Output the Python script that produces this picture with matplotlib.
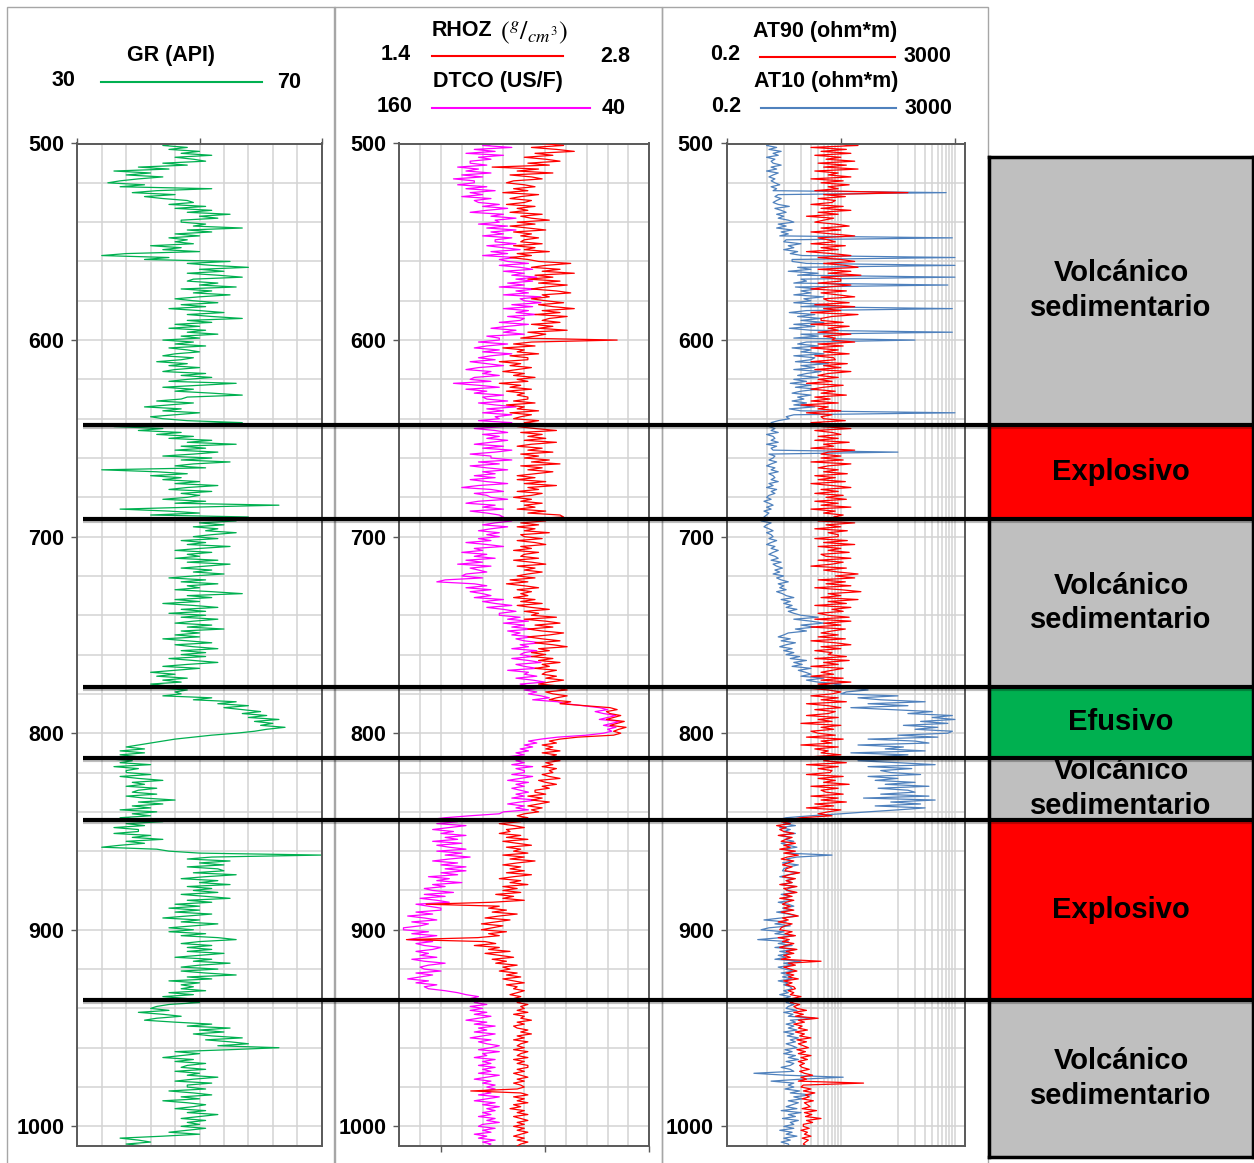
import numpy as np
import matplotlib
matplotlib.use("Agg")
import matplotlib.pyplot as plt
from matplotlib.lines import Line2D
from matplotlib.patches import Rectangle
import matplotlib.transforms as mtransforms
import matplotlib.patheffects as pe

plt.rcParams['font.family'] = ['Liberation Sans', 'DejaVu Sans']
plt.rcParams['mathtext.fontset'] = 'stix'

# ---------------------------------------------------------------- data
# one sample per metre, 500 m to 1010 m
DEPTH_TOP, DEPTH_BASE, DEPTH_STEP = 500, 1010, 1

gr = [
    46, 44, 48, 45, 50, 47, 52, 46, 49, 51,   # 500
    44, 48, 40, 45, 36, 42, 38, 44, 40, 37,   # 510
    35, 41, 37, 52, 43, 39, 46, 41, 44, 48,   # 520
    49, 45, 51, 46, 52, 48, 55, 50, 53, 47,   # 530
    47, 51, 49, 57, 48, 52, 46, 50, 45, 48,   # 540
    46, 49, 42, 47, 44, 50, 38, 34, 45, 41,   # 550
    55, 48, 52, 58, 50, 54, 48, 53, 57, 49,   # 560
    48, 53, 50, 56, 47, 52, 49, 55, 50, 46,   # 570
    49, 53, 47, 51, 45, 50, 54, 48, 52, 57,   # 580
    48, 52, 46, 50, 45, 51, 48, 53, 47, 50,   # 590
    44, 49, 46, 51, 45, 48, 50, 46, 44, 49,   # 600
    47, 43, 48, 45, 50, 46, 44, 51, 47, 52,   # 610
    48, 45, 56, 50, 44, 49, 46, 52, 57, 48,   # 620
    47, 43, 49, 45, 41, 47, 44, 50, 46, 42,   # 630
    44, 48, 57, 41, 36, 44, 40, 47, 43, 49,   # 640
    45, 52, 48, 56, 47, 51, 46, 53, 49, 44,   # 650
    52, 47, 55, 49, 46, 51, 34, 43, 48, 42,   # 660
    47, 44, 50, 46, 53, 48, 45, 52, 47, 50,   # 670
    48, 44, 51, 46, 63, 49, 37, 45, 50, 42,   # 680
    58, 52, 56, 50, 54, 49, 53, 51, 56, 52,   # 690
    49, 53, 47, 51, 48, 55, 50, 46, 52, 48,   # 700
    50, 46, 53, 48, 55, 51, 47, 52, 49, 54,   # 710
    49, 45, 51, 47, 53, 48, 50, 46, 52, 57,   # 720
    48, 52, 46, 50, 44, 49, 53, 47, 51, 45,   # 730
    51, 47, 53, 49, 46, 52, 48, 54, 47, 50,   # 740
    46, 50, 44, 48, 52, 46, 49, 53, 47, 51,   # 750
    47, 51, 45, 49, 53, 48, 44, 50, 46, 42,   # 760
    46, 43, 48, 44, 47, 42, 45, 43, 48, 46,   # 770
    47, 44, 52, 49, 56, 53, 58, 54, 57, 60,   # 780
    57, 61, 58, 63, 59, 62, 60, 64, 61, 59,   # 790
    56, 52, 49, 46, 44, 42, 40, 38, 41, 37,   # 800
    41, 37, 40, 35, 39, 37, 42, 36, 40, 38,   # 810
    38, 42, 37, 40, 44, 39, 41, 38, 43, 40,   # 820
    39, 43, 38, 41, 46, 40, 44, 39, 42, 37,   # 830
    43, 39, 42, 37, 41, 44, 38, 41, 36, 40,   # 840
    40, 36, 42, 39, 44, 38, 41, 37, 34, 43,   # 850
    45, 50, 70, 52, 48, 55, 50, 54, 48, 53,   # 860
    54, 49, 56, 51, 47, 53, 50, 55, 48, 52,   # 870
    49, 53, 47, 51, 55, 48, 52, 46, 50, 45,   # 880
    50, 46, 52, 48, 44, 50, 47, 53, 49, 45,   # 890
    49, 45, 51, 47, 53, 56, 50, 47, 52, 48,   # 900
    52, 48, 54, 50, 46, 52, 49, 55, 50, 47,   # 910
    53, 47, 51, 56, 48, 52, 45, 50, 47, 49,   # 920
    47, 51, 45, 49, 44, 48, 46, 50, 45, 43,   # 930
    42, 45, 40, 44, 47, 43, 41, 46, 52, 48,   # 940
    55, 50, 54, 49, 52, 57, 51, 55, 58, 53,   # 950
    63, 55, 46, 50, 47, 44, 49, 46, 51, 48,   # 960
    47, 51, 46, 50, 48, 53, 49, 46, 52, 48,   # 970
    48, 51, 45, 49, 52, 47, 50, 44, 48, 51,   # 980
    49, 46, 51, 48, 53, 50, 47, 51, 48, 50,   # 990
    47, 51, 48, 45, 50, 44, 37, 40, 42, 38,   # 1000
    41,
]

rhoz = [
    2.20, 2.32, 2.14, 2.28, 2.38, 2.16, 2.26, 2.10, 2.22, 2.30,   # 500
    2.12, 2.24, 1.92, 2.18, 2.06, 2.26, 2.02, 2.14, 2.20, 2.04,   # 510
    2.00, 2.10, 2.16, 2.04, 2.12, 1.98, 2.18, 2.08, 2.02, 2.14,   # 520
    2.10, 2.00, 2.16, 2.06, 2.12, 2.02, 2.20, 2.08, 2.14, 2.24,   # 530
    2.06, 2.16, 2.02, 2.12, 2.22, 2.04, 2.14, 2.08, 2.18, 2.10,   # 540
    2.08, 2.20, 2.04, 2.16, 2.10, 2.24, 2.06, 2.14, 2.02, 2.12,   # 550
    2.18, 2.36, 2.22, 2.14, 2.30, 2.20, 2.38, 2.16, 2.26, 2.12,   # 560
    2.30, 2.18, 2.34, 2.22, 2.14, 2.28, 2.36, 2.20, 2.24, 2.14,   # 570
    2.22, 2.32, 2.18, 2.26, 2.38, 2.20, 2.30, 2.16, 2.34, 2.24,   # 580
    2.20, 2.30, 2.14, 2.26, 2.18, 2.34, 2.12, 2.22, 2.16, 2.08,   # 590
    2.62, 2.14, 2.04, 2.16, 1.98, 2.10, 2.06, 2.18, 2.02, 2.12,   # 600
    2.12, 1.96, 2.08, 2.02, 2.14, 2.06, 1.98, 2.10, 2.04, 2.16,   # 610
    2.06, 2.12, 1.96, 2.08, 2.02, 2.14, 2.00, 2.10, 2.06, 2.12,   # 620
    2.12, 2.04, 2.16, 2.00, 2.10, 2.06, 2.18, 2.02, 2.14, 2.08,   # 630
    2.04, 2.18, 2.10, 2.24, 2.06, 2.16, 2.28, 2.08, 2.20, 2.12,   # 640
    2.22, 2.10, 2.28, 2.14, 2.06, 2.20, 2.12, 2.26, 2.08, 2.18,   # 650
    2.10, 2.24, 2.14, 2.30, 2.08, 2.20, 2.12, 2.26, 2.16, 2.06,   # 660
    2.16, 2.06, 2.22, 2.10, 2.28, 2.12, 2.18, 2.06, 2.20, 2.14,   # 670
    2.04, 2.14, 2.08, 2.20, 2.10, 2.16, 2.06, 2.22, 2.12, 2.30,   # 680
    2.32, 2.12, 2.22, 2.08, 2.18, 2.06, 2.16, 2.10, 2.24, 2.08,   # 690
    2.10, 2.20, 2.06, 2.16, 2.22, 2.08, 2.14, 2.04, 2.18, 2.10,   # 700
    2.08, 2.18, 2.04, 2.14, 2.22, 2.06, 2.16, 2.10, 2.20, 2.12,   # 710
    2.06, 2.16, 2.02, 2.12, 2.00, 2.10, 2.18, 2.06, 2.14, 2.08,   # 720
    2.12, 2.04, 2.16, 2.08, 2.20, 2.06, 2.14, 2.24, 2.10, 2.18,   # 730
    2.14, 2.28, 2.10, 2.22, 2.30, 2.16, 2.26, 2.12, 2.20, 2.32,   # 740
    2.24, 2.12, 2.20, 2.30, 2.16, 2.26, 2.34, 2.18, 2.24, 2.14,   # 750
    2.22, 2.14, 2.26, 2.18, 2.30, 2.20, 2.24, 2.16, 2.28, 2.22,   # 760
    2.20, 2.28, 2.22, 2.32, 2.24, 2.18, 2.30, 2.26, 2.34, 2.22,   # 770
    2.26, 2.34, 2.28, 2.24, 2.36, 2.30, 2.44, 2.58, 2.62, 2.56,   # 780
    2.58, 2.64, 2.60, 2.56, 2.66, 2.62, 2.58, 2.67, 2.63, 2.60,   # 790
    2.64, 2.60, 2.40, 2.30, 2.24, 2.28, 2.20, 2.26, 2.22, 2.30,   # 800
    2.20, 2.28, 2.24, 2.18, 2.30, 2.22, 2.26, 2.20, 2.28, 2.24,   # 810
    2.26, 2.20, 2.24, 2.30, 2.18, 2.22, 2.28, 2.20, 2.24, 2.16,   # 820
    2.16, 2.22, 2.12, 2.20, 2.14, 2.24, 2.18, 2.12, 2.20, 2.14,   # 830
    2.18, 2.10, 2.06, 2.12, 2.00, 2.08, 1.96, 2.04, 2.10, 2.00,   # 840
    2.02, 1.96, 2.08, 2.00, 2.12, 1.98, 2.06, 2.14, 2.00, 2.08,   # 850
    2.04, 2.12, 1.98, 2.10, 2.02, 2.16, 2.06, 1.98, 2.08, 2.02,   # 860
    2.10, 2.00, 2.14, 2.04, 1.96, 2.08, 2.02, 2.12, 1.98, 2.06,   # 870
    1.98, 2.08, 1.94, 2.04, 1.98, 2.10, 1.92, 1.55, 1.96, 1.90,   # 880
    2.00, 1.92, 2.06, 1.96, 1.88, 2.02, 1.94, 1.86, 1.98, 1.92,   # 890
    1.86, 2.00, 1.90, 1.96, 1.84, 1.44, 1.88, 1.94, 1.82, 1.96,   # 900
    1.90, 2.02, 1.88, 1.96, 2.04, 1.92, 2.00, 1.94, 2.06, 1.98,   # 910
    2.02, 1.96, 2.06, 2.00, 2.08, 1.98, 2.04, 2.10, 2.00, 2.06,   # 920
    2.04, 2.10, 2.06, 2.02, 2.08, 2.04, 2.10, 2.06, 2.12, 2.08,   # 930
    2.10, 2.06, 2.12, 2.04, 2.10, 2.08, 2.14, 2.06, 2.10, 2.04,   # 940
    2.06, 2.12, 2.08, 2.14, 2.06, 2.10, 2.04, 2.12, 2.08, 2.06,   # 950
    2.10, 2.04, 2.12, 2.08, 2.06, 2.12, 2.04, 2.10, 2.06, 2.12,   # 960
    2.12, 2.06, 2.10, 2.04, 2.08, 2.12, 2.06, 2.10, 2.04, 2.08,   # 970
    2.10, 2.06, 1.80, 2.08, 2.12, 2.04, 2.10, 2.06, 2.12, 2.04,   # 980
    2.08, 2.02, 2.10, 2.06, 2.12, 2.04, 2.08, 2.12, 2.06, 2.10,   # 990
    2.04, 2.10, 2.06, 2.12, 2.08, 2.04, 2.10, 2.06, 2.12, 2.08,   # 1000
    2.06,
]

dtco = [
    112, 120, 106, 124, 114, 128, 110, 122, 116, 126,   # 500
    126, 118, 132, 122, 128, 116, 130, 120, 134, 124,   # 510
    124, 132, 118, 128, 114, 126, 120, 130, 116, 124,   # 520
    122, 112, 120, 108, 118, 126, 110, 116, 104, 114,   # 530
    112, 122, 108, 118, 104, 116, 110, 120, 106, 114,   # 540
    114, 104, 118, 110, 102, 116, 108, 120, 104, 112,   # 550
    108, 98, 112, 102, 96, 110, 100, 106, 94, 104,      # 560
    96, 108, 100, 112, 94, 104, 98, 110, 92, 102,       # 570
    100, 92, 106, 96, 110, 98, 104, 94, 108, 100,       # 580
    102, 112, 98, 108, 116, 104, 110, 100, 118, 112,    # 590
    112, 122, 108, 118, 124, 112, 120, 106, 116, 122,   # 600
    114, 126, 118, 110, 122, 128, 116, 120, 112, 124,   # 610
    126, 116, 134, 122, 112, 128, 118, 124, 110, 120,   # 620
    118, 108, 122, 114, 104, 118, 110, 120, 106, 114,   # 630
    112, 122, 106, 118, 110, 124, 114, 108, 120, 112,   # 640
    118, 108, 116, 124, 110, 120, 106, 114, 126, 116,   # 650
    116, 106, 122, 112, 126, 118, 108, 120, 114, 124,   # 660
    114, 126, 118, 108, 122, 130, 116, 110, 124, 118,   # 670
    116, 108, 122, 128, 114, 120, 110, 126, 118, 112,   # 680
    110, 118, 106, 114, 120, 108, 116, 122, 112, 118,   # 690
    112, 122, 116, 128, 118, 110, 124, 120, 130, 118,   # 700
    124, 114, 128, 120, 132, 116, 126, 122, 118, 128,   # 710
    130, 120, 138, 142, 124, 118, 128, 116, 126, 120,   # 720
    116, 124, 110, 120, 114, 106, 118, 110, 104, 112,   # 730
    112, 102, 108, 98, 110, 100, 106, 96, 108, 102,     # 740
    106, 96, 104, 100, 92, 102, 98, 106, 94, 100,       # 750
    102, 96, 106, 98, 92, 104, 100, 94, 108, 98,        # 760
    100, 94, 104, 96, 90, 102, 98, 92, 100, 94,         # 770
    98, 92, 88, 96, 84, 80, 72, 64, 60, 66,             # 780
    62, 56, 60, 64, 54, 58, 62, 56, 60, 58,             # 790
    62, 70, 84, 92, 98, 94, 100, 96, 102, 98,           # 800
    104, 100, 108, 98, 104, 100, 106, 96, 104, 100,     # 810
    100, 106, 96, 102, 108, 98, 104, 100, 106, 102,     # 820
    98, 104, 100, 106, 94, 102, 108, 100, 104, 98,      # 830
    110, 112, 126, 138, 146, 132, 142, 128, 136, 144,   # 840
    134, 140, 128, 138, 132, 144, 130, 142, 136, 128,   # 850
    142, 130, 138, 126, 136, 144, 132, 140, 128, 138,   # 860
    128, 140, 132, 146, 136, 142, 130, 144, 138, 148,   # 870
    144, 134, 148, 138, 150, 142, 136, 152, 146, 140,   # 880
    140, 152, 144, 156, 148, 142, 154, 146, 150, 158,   # 890
    158, 146, 154, 142, 150, 156, 144, 152, 148, 140,   # 900
    144, 152, 146, 150, 142, 154, 148, 138, 146, 150,   # 910
    148, 140, 152, 144, 150, 156, 146, 152, 142, 148,   # 920
    146, 138, 132, 128, 122, 126, 120, 124, 118, 126,   # 930
    120, 126, 118, 124, 116, 122, 128, 118, 124, 114,   # 940
    122, 118, 124, 114, 120, 126, 116, 122, 118, 112,   # 950
    116, 122, 112, 120, 118, 124, 114, 120, 116, 122,   # 960
    114, 120, 116, 122, 112, 118, 124, 116, 120, 114,   # 970
    118, 114, 120, 116, 122, 112, 118, 124, 114, 120,   # 980
    112, 118, 114, 120, 116, 122, 114, 118, 112, 120,   # 990
    122, 114, 120, 116, 124, 118, 122, 114, 120, 116,   # 1000
    118,
]

at90 = [
    12, 40, 6, 25, 9, 30, 7, 20, 11, 35,           # 500
    8, 25, 10, 40, 7, 18, 12, 30, 6, 22,           # 510
    9, 28, 12, 18, 7, 300, 10, 24, 8, 16,          # 520
    14, 6, 22, 9, 30, 8, 18, 5, 15, 10,            # 530
    7, 16, 28, 9, 20, 6, 14, 35, 8, 12,            # 540
    16, 6, 24, 9, 18, 5, 14, 30, 8, 20,            # 550
    35, 10, 24, 40, 8, 30, 12, 45, 9, 20,          # 560
    20, 8, 30, 12, 6, 25, 9, 18, 35, 10,           # 570
    12, 28, 7, 35, 10, 20, 6, 40, 14, 9,           # 580
    9, 22, 6, 28, 12, 18, 8, 30, 10, 16,           # 590
    14, 35, 8, 22, 6, 18, 10, 28, 7, 15,           # 600
    16, 6, 26, 10, 20, 7, 30, 12, 8, 18,           # 610
    8, 14, 5, 22, 10, 6, 16, 9, 25, 7,             # 620
    13, 6, 18, 4, 12, 8, 20, 5, 14, 9,             # 630
    10, 24, 6, 16, 9, 30, 7, 14, 20, 8,            # 640
    18, 7, 28, 10, 15, 6, 35, 12, 9, 20,           # 650
    9, 22, 6, 30, 12, 8, 18, 10, 26, 7,            # 660
    16, 8, 24, 6, 14, 30, 9, 18, 7, 22,            # 670
    11, 25, 7, 18, 9, 30, 6, 16, 10, 22,           # 680
    15, 28, 8, 35, 11, 20, 7, 26, 12, 18,          # 690
    18, 7, 26, 10, 35, 8, 20, 12, 28, 9,           # 700
    11, 30, 8, 22, 14, 6, 25, 10, 18, 40,          # 710
    16, 35, 8, 24, 11, 30, 7, 20, 45, 12,          # 720
    20, 9, 40, 12, 25, 7, 30, 14, 22, 8,           # 730
    12, 28, 7, 30, 10, 20, 6, 24, 14, 9,           # 740
    18, 8, 24, 6, 16, 30, 9, 20, 7, 14,            # 750
    12, 25, 7, 28, 10, 18, 6, 22, 14, 9,           # 760
    15, 6, 22, 9, 30, 8, 18, 5, 12, 20,            # 770
    14, 6, 18, 9, 25, 5, 12, 20, 7, 16,            # 780
    12, 5, 18, 8, 14, 4, 20, 9, 15, 6,             # 790
    8, 16, 5, 22, 9, 14, 4, 18, 7, 12,             # 800
    9, 20, 6, 15, 10, 25, 5, 18, 8, 14,            # 810
    13, 5, 22, 8, 16, 10, 28, 6, 18, 9,            # 820
    11, 22, 6, 18, 9, 25, 7, 15, 5, 20,            # 830
    12, 8, 14, 4, 2.5, 1.8, 2.6, 1.5, 2.2, 1.7,    # 840
    2.0, 3.0, 1.6, 2.8, 2.2, 1.8, 3.2, 2.0, 2.6, 1.7,   # 850
    3.2, 2.0, 3.6, 2.3, 1.8, 3.0, 2.4, 1.9, 2.8, 2.2,   # 860
    2.1, 3.8, 2.5, 1.9, 3.2, 2.2, 2.8, 1.7, 3.4, 2.0,   # 870
    2.4, 3.4, 2.0, 2.8, 1.7, 3.0, 2.2, 1.9, 2.6, 2.0,   # 880
    3.0, 1.8, 2.6, 3.6, 1.9, 2.4, 1.6, 2.8, 2.1, 1.8,   # 890
    1.7, 2.8, 2.1, 3.2, 1.6, 2.5, 1.9, 3.0, 2.2, 1.7,   # 900
    3.4, 2.2, 3.0, 2.0, 2.6, 1.8, 9.0, 2.4, 3.2, 2.0,   # 910
    2.6, 3.4, 2.2, 3.0, 2.4, 3.6, 2.0, 2.8, 2.2, 3.0,   # 920
    3.2, 2.4, 3.0, 2.6, 4.0, 2.8, 3.4, 2.6, 3.8, 3.0,   # 930
    3.4, 5.0, 3.0, 4.4, 3.2, 8.0, 3.6, 4.6, 3.0, 4.2,   # 940
    3.6, 5.2, 3.2, 4.6, 3.8, 6.0, 3.4, 5.0, 3.6, 4.4,   # 950
    5.4, 3.4, 4.8, 3.6, 6.0, 4.0, 5.2, 3.6, 4.6, 3.8,   # 960
    4.2, 5.6, 3.8, 4.6, 6.4, 4.0, 5.0, 3.6, 50, 4.4,    # 970
    4.0, 6.0, 4.4, 7.0, 4.8, 5.6, 4.2, 6.6, 4.6, 5.2,   # 980
    5.8, 4.2, 7.5, 4.6, 6.2, 4.8, 9.0, 5.0, 6.4, 4.4,   # 990
    4.4, 5.6, 4.0, 5.2, 4.6, 6.0, 4.2, 5.4, 4.8, 4.4,   # 1000
    5.0,
]

at10 = [
    1.2, 1.0, 1.5, 1.1, 1.8, 1.3, 1.6, 1.0, 1.4, 1.2,       # 500
    1.3, 1.8, 1.2, 1.5, 1.0, 1.6, 1.3, 1.1, 1.4, 1.2,       # 510
    1.4, 1.7, 1.2, 1.5, 1.3, 1400, 1.6, 1.4, 1.8, 1.5,      # 520
    1.3, 1.6, 2.5, 1.4, 1.8, 2.2, 1.5, 2.0, 1.6, 2.4,       # 530
    3.0, 1.6, 2.2, 1.5, 2.8, 1.8, 2.4, 1.7, 1800, 2.2,      # 540
    2.0, 4.0, 2.4, 3.0, 2.0, 3.5, 2.6, 4.2, 2000, 2.8,      # 550
    2.8, 5, 2000, 3.5, 6, 2.4, 8, 3.5, 2000, 4,             # 560
    5, 3, 1500, 3.2, 8, 4.0, 6, 3.0, 10, 4.5,               # 570
    6, 3.0, 12, 4, 1800, 5, 2.5, 7, 3.5, 9,                 # 580
    4, 10, 3, 7, 2.5, 6, 1800, 4, 8, 3,                     # 590
    400, 5, 3.5, 8, 2.8, 6, 4, 10, 3, 7,                    # 600
    6, 3.2, 12, 4, 7, 3, 9, 5, 3.5, 8,                      # 610
    3, 5, 2.6, 6, 3.2, 8, 4, 2.8, 6, 3.5,                   # 620
    4.5, 2.8, 5, 3, 7, 2.5, 4, 2000, 3, 2.2,                # 630
    2.5, 1.6, 1.2, 1.5, 1.1, 1.4, 1.2, 1.6, 1.0, 1.3,       # 640
    1.4, 1.2, 1.6, 1.0, 1.5, 1.2, 1.3, 200, 1.1, 1.4,       # 650
    1.3, 1.1, 1.5, 1.2, 1.0, 1.4, 1.2, 1.6, 1.1, 1.3,       # 660
    1.4, 1.2, 1.6, 1.1, 1.3, 1.0, 1.5, 1.2, 1.4, 1.1,       # 670
    1.0, 1.2, 0.9, 1.1, 1.3, 1.0, 1.2, 0.9, 1.1, 1.0,       # 680
    0.9, 1.1, 0.8, 1.2, 1.0, 0.9, 1.1, 1.3, 1.0, 1.2,       # 690
    1.3, 1.1, 1.5, 1.2, 1.0, 1.4, 1.2, 1.6, 1.3, 1.1,       # 700
    1.4, 1.6, 1.2, 1.8, 1.3, 1.5, 1.9, 1.4, 1.7, 1.3,       # 710
    2.0, 1.5, 1.8, 2.4, 1.6, 2.0, 1.7, 2.2, 1.5, 1.9,       # 720
    2.2, 3.0, 1.8, 2.6, 2.0, 2.8, 2.2, 3.4, 2.4, 3.0,       # 730
    4.0, 8, 3.0, 6, 10, 4, 7, 3.2, 5, 2.4,                  # 740
    2.0, 1.6, 2.6, 1.8, 3.2, 2.2, 1.7, 2.8, 2.0, 3.0,       # 750
    2.2, 3.8, 2.6, 5, 3.0, 4.2, 2.8, 6, 3.6, 4.8,           # 760
    6, 4, 10, 5, 8, 20, 12, 30, 60, 25,                     # 770
    20, 200, 40, 100, 600, 60, 300, 30, 150, 800,           # 780
    300, 1800, 800, 2000, 500, 1500, 250, 1000, 400, 1800,  # 790
    1500, 200, 1000, 60, 400, 700, 40, 250, 120, 600,       # 800
    30, 300, 80, 600, 40, 200, 900, 60, 350, 100,           # 810
    150, 500, 60, 200, 80, 400, 120, 700, 90, 300,          # 820
    400, 100, 700, 50, 900, 150, 500, 80, 600, 200,         # 830
    60, 20, 6, 2.2, 1.6, 2.8, 2.0, 3.2, 1.7, 2.6,           # 840
    2.0, 3.2, 1.7, 2.6, 2.1, 3.0, 1.8, 2.4, 3.4, 2.0,       # 850
    3.0, 2.2, 14, 3.4, 2.2, 2.8, 1.9, 3.6, 2.4, 2.0,        # 860
    1.9, 3.6, 2.4, 1.7, 3.0, 2.2, 2.8, 1.8, 3.2, 2.4,       # 870
    2.2, 3.2, 1.8, 2.6, 2.0, 2.8, 1.6, 2.4, 3.0, 1.9,       # 880
    2.8, 1.5, 2.4, 3.4, 1.8, 0.9, 2.2, 1.4, 2.6, 1.1,       # 890
    0.8, 2.0, 1.4, 3.0, 1.8, 0.7, 2.4, 1.6, 2.8, 1.4,       # 900
    3.2, 1.7, 2.6, 1.6, 2.2, 1.4, 4.0, 2.0, 2.8, 1.6,       # 910
    2.1, 3.0, 1.8, 2.6, 1.9, 2.8, 1.6, 2.4, 2.0, 2.6,       # 920
    2.8, 2.0, 2.4, 1.7, 2.6, 2.0, 2.8, 2.2, 3.0, 2.4,       # 930
    2.2, 3.4, 2.0, 2.9, 2.4, 7.0, 2.6, 3.2, 2.2, 3.0,       # 940
    2.4, 3.4, 2.0, 3.0, 2.3, 3.6, 2.6, 3.2, 2.2, 2.8,       # 950
    3.4, 2.1, 2.8, 2.0, 3.2, 2.4, 3.6, 2.2, 3.0, 2.6,       # 960
    1.8, 2.6, 3.0, 0.6, 2.2, 22, 4, 1.2, 3.0, 2.4,          # 970
    3.0, 2.1, 3.8, 2.6, 6.0, 3.0, 4.2, 2.4, 3.6, 2.8,       # 980
    2.2, 3.4, 1.8, 4.0, 2.4, 3.2, 1.9, 3.6, 2.6, 3.0,       # 990
    2.0, 3.0, 1.7, 2.8, 2.2, 3.4, 2.0, 2.6, 1.8, 2.4,       # 1000
    2.5,
]

# lithology intervals
litho_tops = [506.9, 643.0, 691.0, 776.5, 812.5, 844.0, 935.5]
litho_bases = [643.0, 691.0, 776.5, 812.5, 844.0, 935.5, 1015.6]
litho_names = ["Volcánico\nsedimentario", "Explosivo", "Volcánico\nsedimentario",
               "Efusivo", "Volcánico\nsedimentario", "Explosivo",
               "Volcánico\nsedimentario"]
litho_colors = ["#BFBFBF", "#FF0000", "#BFBFBF", "#00B050", "#BFBFBF",
                "#FF0000", "#BFBFBF"]
boundaries = [643.0, 691.0, 776.5, 812.5, 844.0, 935.5]

depth_ticks = [500, 600, 700, 800, 900, 1000]

n_samples = (DEPTH_BASE - DEPTH_TOP) // DEPTH_STEP + 1
for curve in (gr, rhoz, dtco, at90, at10):
    assert len(curve) == n_samples, len(curve)

# ---------------------------------------------------------------- layout
W, H = 1254, 1163
fig = plt.figure(figsize=(W / 100, H / 100), dpi=100)


def px_box(l, t, r, b):
    return [l / W, 1 - b / H, (r - l) / W, (b - t) / H]


def fx(x):
    return x / W


def fy(y):
    return 1 - y / H


def depth_of(values):
    return DEPTH_TOP + DEPTH_STEP * np.arange(len(values))


GRID = "#D3D3D3"
SPINE = "#595959"
FS = 15.5
LW = 0.9

# chart-area frames behind each track
for l, r in [(7.3, 334.5), (334.5, 661.7), (661.7, 988.3)]:
    fig.add_artist(Rectangle((fx(l), fy(1200)), (r - l) / W, (1200 - 6.7) / H,
                             transform=fig.transFigure, fill=False,
                             edgecolor="#A6A6A6", lw=1.0, zorder=0))


def style_track(ax):
    ax.set_ylim(DEPTH_BASE, DEPTH_TOP)
    ax.set_yticks(depth_ticks)
    ax.set_yticks(np.arange(520, 1001, 20), minor=True)
    ax.set_yticklabels([str(d) for d in depth_ticks], fontsize=FS,
                       fontweight="bold")
    ax.tick_params(axis="y", which="major", direction="out", length=4.3,
                   width=1, color=SPINE, pad=5)
    ax.tick_params(axis="y", which="minor", length=0)
    ax.tick_params(axis="x", which="major", top=True, bottom=False,
                   labeltop=False, labelbottom=False, direction="out",
                   length=4.3, width=1, color=SPINE)
    ax.tick_params(axis="x", which="minor", top=False, bottom=False,
                   length=0)
    ax.grid(which="both", color=GRID, lw=1.1)
    ax.set_axisbelow(True)
    for s in ax.spines.values():
        s.set_color(SPINE)
        s.set_linewidth(1.4)


# Track 1: GR
ax1 = fig.add_axes(px_box(77.3, 143.5, 321.7, 1146))
ax1.plot(gr, depth_of(gr), color="#00B050", lw=LW)
ax1.set_xlim(30, 70)
ax1.set_xticks([30, 50, 70])
ax1.set_xticks(np.arange(30, 71, 4), minor=True)
style_track(ax1)

# Track 2: RHOZ + DTCO
ax2 = fig.add_axes(px_box(399.3, 143.5, 649.3, 1146))
ax2.set_xlim(160, 40)
ax2.set_xticks([140, 90, 40])
ax2.set_xticks(np.arange(40, 161, 10), minor=True)
style_track(ax2)
ax2.plot(dtco, depth_of(dtco), color="#FF00FF", lw=LW)
ax2r = ax2.twiny()
ax2r.set_xlim(1.4, 2.8)
ax2r.set_ylim(DEPTH_BASE, DEPTH_TOP)
ax2r.plot(rhoz, depth_of(rhoz), color="#FF0000", lw=LW)
ax2r.set_xticks([])
for s in ax2r.spines.values():
    s.set_visible(False)

# Track 3: resistivity (log)
ax3 = fig.add_axes(px_box(726.7, 143.5, 965, 1146))
ax3.set_xscale("log")
ax3.set_xlim(0.2, 3000)
ax3.set_xticks([0.2, 20, 2000])
ax3.set_xticks([1, 2, 4, 6, 8, 10, 12, 14, 16, 18,
                200, 400, 600, 800, 1000, 1200, 1400, 1600, 1800],
               minor=True)
ax3.xaxis.set_major_formatter(plt.NullFormatter())
ax3.xaxis.set_minor_formatter(plt.NullFormatter())
style_track(ax3)
ax3.plot(at10, depth_of(at10), color="#4F81BD", lw=LW)
ax3.plot(at90, depth_of(at90), color="#FF0000", lw=LW)

# Lithology column
ax4 = fig.add_axes(px_box(989, 157, 1253, 1157))
ax4.set_xlim(0, 1)
ax4.set_ylim(litho_bases[-1], litho_tops[0])
for top, base, name, col in zip(litho_tops, litho_bases, litho_names,
                                litho_colors):
    ax4.axhspan(top, base, color=col, lw=0)
    ax4.text(0.5, (top + base) / 2, name, ha="center", va="center",
             fontsize=21, fontweight="bold", linespacing=1.3)
ax4.set_xticks([])
ax4.set_yticks([])
for s in ax4.spines.values():
    s.set_color("black")
    s.set_linewidth(2.5)

# Interval boundaries across all tracks
blend = mtransforms.blended_transform_factory(fig.transFigure, ax1.transData)
for d in boundaries:
    fig.add_artist(Line2D([fx(83), 1.0], [d, d], transform=blend,
                          color="black", lw=3.0, solid_capstyle="butt",
                          path_effects=[pe.SimpleLineShadow(offset=(0, -1.5),
                                                            alpha=0.25),
                                        pe.Normal()],
                          zorder=10))

# ---------------------------------------------------------------- headers
def htext(x, y, s, ha="center", **kw):
    fig.text(fx(x), fy(y), s, ha=ha, va="center", fontsize=FS,
             fontweight="bold", **kw)


def hline(x0, x1, y, color):
    fig.add_artist(Line2D([fx(x0), fx(x1)], [fy(y), fy(y)],
                          transform=fig.transFigure, color=color, lw=1.5))


htext(171, 55, "GR (API)")
htext(63, 81, "30")
hline(101, 262, 82, "#00B050")
htext(289, 83, "70")

htext(432, 31, "RHOZ", ha="left")
fig.text(fx(500), fy(33), r"$\left(^{g}/_{cm^{3}}\right)$", ha="left",
         va="center", fontsize=19)
htext(396, 54, "1.4")
hline(432, 563, 56, "#FF0000")
htext(615, 56, "2.8")
htext(498, 82, "DTCO (US/F)")
htext(395, 107, "160")
hline(432, 590, 108, "#FF00FF")
htext(614, 109, "40")

htext(825, 31, "AT90 (ohm*m)")
htext(725, 55, "0.2")
hline(760, 895, 57, "#FF0000")
htext(927, 57, "3000")
htext(826, 81, "AT10 (ohm*m)")
htext(726, 106, "0.2")
hline(761, 896, 108, "#4F81BD")
htext(928, 108, "3000")

fig.savefig("out.png", dpi=100)
